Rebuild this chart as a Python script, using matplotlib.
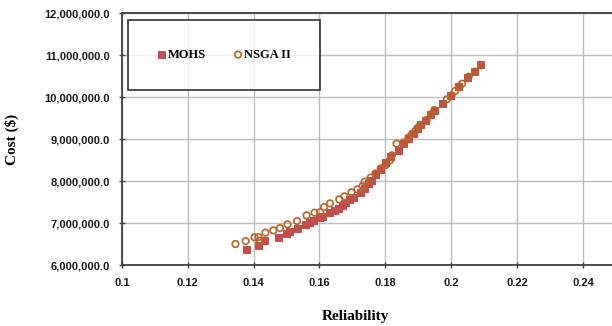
import numpy as np
import matplotlib
matplotlib.use('Agg')
import matplotlib.pyplot as plt
from matplotlib.ticker import FuncFormatter

# Дані
mohs_rel = [0.1379, 0.1418, 0.1435, 0.1477, 0.1500, 0.1512, 0.1535, 0.1559, 0.1572, 0.1584,
            0.1602, 0.1612, 0.1631, 0.1646, 0.1658, 0.1670, 0.1681, 0.1693, 0.1706, 0.1726,
            0.1739, 0.1750, 0.1761, 0.1771, 0.1786, 0.1803, 0.1818, 0.1841, 0.1858, 0.1873,
            0.1887, 0.1899, 0.1909, 0.1924, 0.1938, 0.1952, 0.1975, 0.2000, 0.2023, 0.2050,
            0.2072, 0.2091]
mohs_cost = [6.358, 6.461, 6.572, 6.652, 6.731, 6.795, 6.866, 6.946, 6.994, 7.041,
             7.113, 7.145, 7.232, 7.288, 7.335, 7.407, 7.486, 7.542, 7.598, 7.725,
             7.820, 7.924, 8.011, 8.146, 8.265, 8.424, 8.583, 8.727, 8.886, 8.997,
             9.116, 9.235, 9.339, 9.442, 9.577, 9.680, 9.839, 10.038, 10.245, 10.452,
             10.610, 10.762]

nsga_rel = [0.1345, 0.1376, 0.1403, 0.1415, 0.1420, 0.1436, 0.1460, 0.1480, 0.1503, 0.1532,
            0.1561, 0.1585, 0.1602, 0.1614, 0.1632, 0.1660, 0.1676, 0.1697, 0.1715, 0.1731,
            0.1737, 0.1755, 0.1770, 0.1786, 0.1801, 0.1813, 0.1820, 0.1834, 0.1854, 0.1870,
            0.1881, 0.1892, 0.1904, 0.1925, 0.1940, 0.1949, 0.1987, 0.2001, 0.2012, 0.2025,
            0.2033, 0.2053, 0.2072, 0.2091]
nsga_cost = [6.501, 6.572, 6.660, 6.668, 6.580, 6.771, 6.827, 6.882, 6.970, 7.049,
             7.184, 7.248, 7.264, 7.383, 7.471, 7.566, 7.638, 7.733, 7.804, 7.884,
             7.987, 8.083, 8.186, 8.305, 8.385, 8.488, 8.615, 8.894, 8.917, 9.037,
             9.124, 9.204, 9.315, 9.458, 9.601, 9.696, 9.951, 10.046, 10.150, 10.261,
             10.324, 10.491, 10.610, 10.762]

x_ticks = [0.1, 0.12, 0.14, 0.16, 0.18, 0.2, 0.22, 0.24]
y_ticks = [6e6, 7e6, 8e6, 9e6, 10e6, 11e6, 12e6]

label_font = {'family': 'Liberation Serif', 'weight': 'bold', 'size': 11}

fig = plt.figure(figsize=(6.12, 3.26), dpi=100)
ax = fig.add_axes([0.199, 0.187, 0.801, 0.772])

ax.scatter(mohs_rel, np.array(mohs_cost) * 1e6, marker='s', s=26, color='#C0504D',
           linewidths=0, label='MOHS', zorder=3)
ax.scatter(nsga_rel, np.array(nsga_cost) * 1e6, marker='o', s=22, facecolors='none',
           edgecolors='#B5652A', linewidths=1.2, label='NSGA II', zorder=4)

ax.set_xlim(0.1, 0.2488)
ax.set_ylim(6e6, 12e6)
ax.set_xticks(x_ticks)
ax.set_yticks(y_ticks)
ax.xaxis.set_major_formatter(FuncFormatter(lambda v, p: f'{v:g}'))
ax.yaxis.set_major_formatter(FuncFormatter(lambda v, p: f'{v:,.1f}'))
for lbl in ax.get_xticklabels() + ax.get_yticklabels():
    lbl.set_fontfamily('Liberation Sans')
    lbl.set_fontweight('bold')
    lbl.set_fontsize(8)
    lbl.set_color('#1a1a1a')

ax.grid(True, color='#BDBDBD', linewidth=1.0)
ax.set_axisbelow(True)
ax.tick_params(direction='inout', length=5, width=1, color='#404040')
ax.tick_params(axis='y', pad=6)
ax.tick_params(axis='x', pad=7)
for side in ['left', 'bottom', 'top']:
    ax.spines[side].set_color('#404040')
    ax.spines[side].set_linewidth(1.3)
ax.spines['right'].set_visible(False)

ax.set_xlabel('Reliability', fontdict=label_font)
ax.set_ylabel('Cost ($)', fontdict=label_font)
ax.xaxis.set_label_coords(0.476, -0.18)
ax.yaxis.set_label_coords(-0.209, 0.5)

leg = ax.legend(loc='upper left', bbox_to_anchor=(0.0128, 0.973), borderaxespad=0,
                ncol=2, frameon=True, fancybox=False, borderpad=2.3,
                handletextpad=0.1, columnspacing=2.15, handlelength=0.8,
                prop={'family': 'Liberation Serif', 'weight': 'bold', 'size': 9})
leg.get_frame().set_edgecolor('black')
leg.get_frame().set_linewidth(1.2)

fig.savefig('out.png', dpi=100)
